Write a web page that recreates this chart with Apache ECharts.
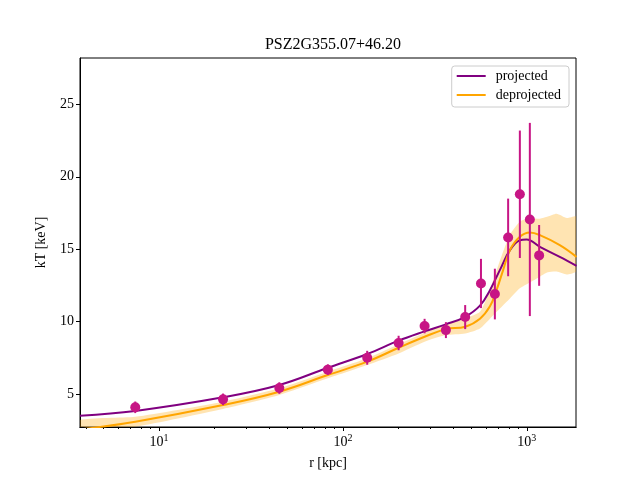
<!DOCTYPE html>
<html>
<head>
<meta charset="utf-8">
<script src="https://cdn.jsdelivr.net/npm/echarts@6/dist/echarts.min.js"></script>
<style>
  html, body { margin: 0; padding: 0; background: #fff; }
  #chart { width: 640px; height: 480px; }
</style>
</head>
<body>
<div id="chart"></div>
<script>
// measured temperature points (r in kpc)
const rPoints = [7.43, 22.3, 45.1, 82.8, 135.5, 200.8, 278, 363, 462, 563, 670, 791, 916, 1038, 1166]
const kT = [4.08, 4.63, 5.41, 6.68, 7.50, 8.52, 9.69, 9.41, 10.31, 12.63, 11.90, 15.81, 18.79, 17.05, 14.57]
const kTErr = [0.40, 0.40, 0.40, 0.37, 0.48, 0.50, 0.50, 0.55, 0.83, 1.70, 1.75, 2.68, 4.40, 6.67, 2.10]

// projected model
const rProj = [3.72, 7.43, 22.3, 45.1, 82.8, 135.5, 200.8, 278, 363, 462, 556, 630, 713, 809, 916, 996, 1177, 1510, 1862]
const kTProj = [3.50, 3.83, 4.77, 5.62, 6.81, 7.76, 8.68, 9.32, 9.81, 10.33, 11.10, 12.17, 13.55, 14.93, 15.62, 15.67, 15.16, 14.47, 13.85]

// deprojected model
const rDeproj = [3.72, 7.43, 22.3, 45.1, 82.8, 135.5, 200.8, 278, 363, 462, 556, 630, 684, 743, 809, 916, 1038, 1177, 1510, 1862]
const kTDeproj = [2.55, 3.09, 4.24, 5.16, 6.31, 7.23, 8.19, 8.95, 9.48, 9.64, 10.20, 11.05, 12.17, 13.55, 14.93, 15.85, 16.15, 15.97, 15.28, 14.47]

// deprojected uncertainty band
const bandR = [3.72, 7.43, 22.3, 45.1, 82.8, 135.5, 200.8, 278, 363, 462, 556, 630, 713, 809, 916, 1038, 1177, 1300, 1450, 1650, 1862]
const bandLo = [2.30, 2.74, 3.97, 4.93, 6.08, 7.00, 7.80, 8.61, 9.07, 9.18, 9.53, 10.20, 10.90, 11.60, 12.30, 12.70, 13.10, 13.40, 13.45, 13.25, 13.50]
const bandHi = [3.20, 3.43, 4.47, 5.39, 6.54, 7.46, 8.43, 9.23, 9.81, 10.22, 10.68, 12.20, 14.20, 16.00, 16.90, 17.15, 17.10, 17.25, 17.45, 17.15, 17.25]

const yTicks = [5, 10, 15, 20, 25]
const xMajor = [10, 100, 1000]
const xMinor = [4, 5, 6, 7, 8, 9, 20, 30, 40, 50, 60, 70, 80, 90, 200, 300, 400, 500, 600, 700, 800, 900]

const font = 'Liberation Serif'
const lg = Math.log10
const xMin = lg(3.72)
const xMax = lg(1850)

const xBase = {
  type: 'value',
  min: xMin,
  max: xMax,
  position: 'bottom',
  splitLine: { show: false },
  axisLine: { lineStyle: { color: '#000', width: 1 } }
}

const option = {
  animation: false,
  backgroundColor: '#fff',
  title: {
    text: 'PSZ2G355.07+46.20',
    left: 328,
    textAlign: 'center',
    top: 32,
    textStyle: { fontFamily: font, fontWeight: 'normal', fontSize: 16, color: '#000' }
  },
  legend: {
    data: ['projected', 'deprojected'],
    orient: 'vertical',
    right: 71,
    top: 66,
    itemWidth: 29,
    itemHeight: 2,
    itemGap: 5,
    icon: 'rect',
    padding: [3, 8, 5, 5],
    borderColor: '#ccc',
    borderWidth: 1,
    borderRadius: 3,
    backgroundColor: 'rgba(255,255,255,0.8)',
    textStyle: { fontFamily: font, fontSize: 14, color: '#000', padding: [0, 0, 0, 5] }
  },
  grid: {
    left: 80,
    right: 64,
    top: 58,
    bottom: 53,
    show: true,
    borderColor: '#000',
    borderWidth: 1,
    backgroundColor: 'transparent'
  },
  xAxis: [
    Object.assign({
      name: 'r [kpc]',
      nameLocation: 'middle',
      nameGap: 29,
      nameTextStyle: { fontFamily: font, fontSize: 14, color: '#000' },
      axisTick: { customValues: xMajor.map(lg), length: 4, lineStyle: { color: '#000' } },
      axisLabel: {
        customValues: xMajor.map(lg),
        fontFamily: font,
        fontSize: 14,
        color: '#000',
        margin: 6,
        formatter: v => '10{s|' + Math.round(v) + '}',
        rich: { s: { fontFamily: font, fontSize: 10, padding: [0, 0, 8, 0] } }
      }
    }, xBase),
    Object.assign({
      axisTick: { customValues: xMinor.map(lg), length: 2, lineStyle: { color: '#000' } },
      axisLabel: { show: false }
    }, xBase)
  ],
  yAxis: {
    type: 'value',
    min: 2.72,
    max: 28.2,
    name: 'kT [keV]',
    nameLocation: 'middle',
    nameGap: 32,
    nameTextStyle: { fontFamily: font, fontSize: 14, color: '#000' },
    splitLine: { show: false },
    axisLine: { lineStyle: { color: '#000', width: 1 } },
    axisTick: { customValues: yTicks, length: 4, lineStyle: { color: '#000' } },
    axisLabel: { customValues: yTicks, fontFamily: font, fontSize: 14, color: '#000', margin: 6 }
  },
  series: [
    {
      name: 'band',
      type: 'custom',
      data: [[0]],
      clip: true,
      silent: true,
      renderItem: (params, api) => {
        const upper = bandR.map((r, i) => api.coord([lg(r), bandHi[i]]))
        const lower = bandR.map((r, i) => api.coord([lg(r), bandLo[i]])).reverse()
        return {
          type: 'polygon',
          shape: { points: upper.concat(lower), smooth: 0.2 },
          style: { fill: 'rgba(255,165,0,0.3)', stroke: 'none' }
        }
      },
      z: 1
    },
    {
      name: 'projected',
      type: 'line',
      data: rProj.map((r, i) => [lg(r), kTProj[i]]),
      symbol: 'none',
      smooth: 0.4,
      color: '#800080',
      lineStyle: { width: 2, color: '#800080' },
      z: 3
    },
    {
      name: 'deprojected',
      type: 'line',
      data: rDeproj.map((r, i) => [lg(r), kTDeproj[i]]),
      symbol: 'none',
      smooth: 0.4,
      color: '#ffa500',
      lineStyle: { width: 2, color: '#ffa500' },
      z: 3
    },
    {
      name: 'errors',
      type: 'custom',
      data: rPoints.map((r, i) => [lg(r), kT[i], kTErr[i]]),
      renderItem: (params, api) => {
        const x = api.value(0)
        const y = api.value(1)
        const e = api.value(2)
        const p1 = api.coord([x, y - e])
        const p2 = api.coord([x, y + e])
        return {
          type: 'line',
          shape: { x1: p1[0], y1: p1[1], x2: p2[0], y2: p2[1] },
          style: { stroke: '#c71585', lineWidth: 2 }
        }
      },
      z: 4
    },
    {
      name: 'points',
      type: 'scatter',
      data: rPoints.map((r, i) => [lg(r), kT[i]]),
      symbol: 'circle',
      symbolSize: 10,
      itemStyle: { color: '#c71585', opacity: 1 },
      z: 5
    }
  ]
}

const myChart = echarts.init(document.getElementById('chart'))
myChart.setOption(option)
</script>
</body>
</html>
